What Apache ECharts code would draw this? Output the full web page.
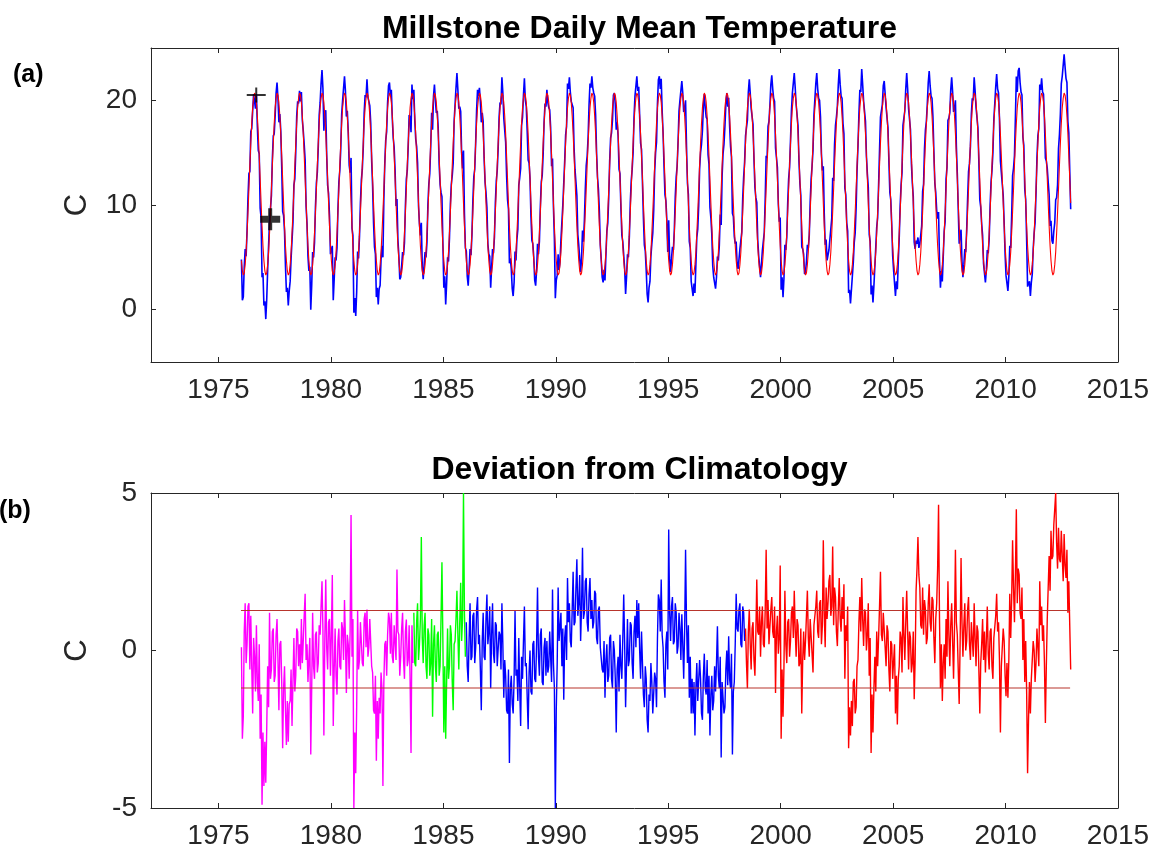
<!DOCTYPE html>
<html>
<head>
<meta charset="utf-8">
<title>Millstone Daily Mean Temperature</title>
<script src="https://cdn.jsdelivr.net/npm/echarts@6/dist/echarts.min.js"></script>
<style>
  html, body { margin: 0; padding: 0; background: #ffffff; }
  #chart { width: 1155px; height: 856px; }
</style>
</head>
<body>
<div id="chart"></div>
<script>
// Half-monthly climatology of water temperature (deg C): Jan 1-15, Jan 16-31, Feb 1-14, ... Dec 16-31
const climatology = [
  4.7, 3.7, 3.3, 3.5, 4.3, 5.5, 7.3, 9.3, 11.5, 13.8, 15.9, 17.8,
  19.3, 20.2, 20.7, 20.5, 19.8, 18.5, 16.8, 14.7, 12.5, 10.2, 8.0, 6.1
];

// Half-monthly deviation from climatology (deg C), one array per record period.
// Period 1: Jan 1976 - Aug 1983
const devStart1976 = [1976, 1];
const devPeriod1976 = [
  0.1, -2.8, -2.1, 0.6, 1.5, -0.4, 0.2, 1.4, 1.5, -0.6, 1.1, -0.5, -2.0, 0.4, -0.2, -1.3, 0.8, -1.0, -1.6, 0.2, -2.8, -1.4, -4.9, -2.6,
  -4.3, -2.9, -4.2, -2.5, -0.5, -1.8, 1.2, -0.9, -0.6, 0.6, 0.7, -1.0, -0.8, 0.5, 1.0, -0.3, -1.9, 0.2, 0.3, -1.0, -3.1, -1.2, -0.5, -1.9,
  -3.0, -1.6, -2.9, -1.7, -1.6, -0.6, -2.4, -1.0, 0.4, -1.3, -0.8, 0.7, 0.6, -0.5, 0.2, -0.6, 1.0, -0.4, 0.3, 1.1, 1.8, -0.3, 0.2, -1.0,
  -1.0, 0.4, -3.3, -1.2, 1.2, -0.5, -0.9, 0.5, 0.6, -0.7, -0.4, 0.8, 0.5, 1.4, 2.2, 0.6, -2.7, 0.3, 2.25, 0.1, -0.6, 0.9, 1.0, -0.8,
  0.5, 2.4, -2.4, -0.6, 0.7, -0.8, -1.4, 0.3, 0.7, -0.5, -0.6, 0.9, 0.7, -0.3, 1.6, 0.4, -1.35, 0.5, 0.2, -0.9, 0.6, 4.3, -0.2, 1.0,
  -5.0, -2.6, -3.9, -1.8, 1.25, -0.6, -0.3, 0.9, 0.9, -0.4, -0.5, 1.0, 1.2, 0.1, 1.3, -0.2, 0.1, 1.0, 1.0, -0.5, -0.7, -1.9, -2.0, -0.8,
  -3.5, -1.6, -2.8, -1.5, -2.0, -0.7, -1.2, -4.3, -1.0, 0.2, 0.3, -0.8, 0.5, 1.2, 1.0, -0.1, 1.2, -0.2, -0.4, 0.8, 0.8, -0.3, 2.57, 0.6,
  0.5, -0.8, -0.2, 0.7, 1.2, -0.3, -0.9, 0.6, 0.98, -0.5, -0.3, 0.8, -0.9, -3.25, 0.8, -0.4
];
// Period 2: Sep 1983 - Dec 1985
const devStart1983 = [1983, 9];
const devPeriod1983 = [
  1.2, -0.4, -0.5, 0.9, 1.5, -0.3, 0.2, 1.0,
  3.6, 0.4, -0.4, 0.8, 1.2, -0.5, -0.9, 0.7, 0.5, -0.8, -0.4, 1.0, -2.1, 0.2, 0.8, -0.5, -1.0, 0.5, 0.6, -0.8, -0.5, 1.0, 2.8, 0.3,
  -2.6, -0.5, -2.8, -1.0, 0.7, -0.9, -0.5, 0.8, 0.5, -1.0, -1.9, 0.2, 0.3, 1.0, 1.9, 0.5, -0.6, 0.9, 2.15, 0.3, 1.0, 5.0, 1.2, -0.2
];
// Period 3: Jan 1986 - May 1998
const devStart1986 = [1986, 1];
const devPeriod1986 = [
  0.9, -0.5, -1.0, 0.4, 1.5, -0.3, -0.2, 1.1, 1.2, -0.4, 0.1, 1.3, 1.7, 0.2, 0.5, -0.6, -1.9, 0.3, 1.2, -0.2, -0.3, 1.0, 1.78, 0.2,
  0.6, 1.4, -1.2, 0.5, 1.5, -0.1, -0.4, 0.9, 0.8, -0.5, -0.5, 0.6, 0.5, -0.6, 1.5, 0.2, -1.5, -0.3, -0.8, -1.9, -2.0, -0.6, -3.57, -1.2,
  -0.8, -1.7, -2.0, -0.9, 1.25, -0.8, -0.6, -1.6, 0.4, -1.2, -2.4, -0.2, -0.9, 0.3, 1.4, -0.5, -0.4, -1.5, -2.5, -0.7, 0.0, -1.3, -1.4, 0.2,
  0.3, -0.9, -1.0, 0.2, 2.0, -0.2, -0.8, 0.5, 0.7, -1.0, -1.1, 0.1, 0.4, -0.8, 0.3, -0.7, -0.5, 0.6, 0.6, -1.0, 1.94, -0.4, -1.2, -5.0,
  -1.9, -0.4, 2.0, 0.3, 0.3, 1.2, -0.5, 0.7, -1.56, 0.4, 0.8, -0.3, 2.3, 0.9, 1.5, 0.3, 0.1, 1.3, 2.5, 0.8, 0.9, 2.0, 2.9, 1.1,
  1.5, 2.4, 0.3, 1.4, 3.26, 1.0, 1.2, 2.2, 2.3, 0.9, 0.6, 1.8, 2.3, 1.0, 1.6, 0.7, 0.9, 1.9, 1.8, 0.4, 0.2, 1.3, 1.4, 0.1,
  0.1, -0.6, -0.7, 0.3, -1.5, -0.3, 0.2, -1.0, -0.8, 0.4, 0.5, -0.9, -1.2, 0.3, 0.0, -0.9, -2.6, -0.6, -0.2, -1.3, 0.5, -0.5, -0.9, 0.4,
  1.78, 0.2, -1.8, -0.4, 1.0, -0.5, -0.3, 0.9, 0.8, -0.4, -0.9, 0.6, 1.1, 0.1, 1.6, 0.4, 1.5, 0.0, -0.9, 0.6, -0.4, -1.4, -1.8, -0.5,
  -0.9, -2.2, -2.6, -1.4, -1.6, -0.4, -1.0, -2.0, -2.0, -0.7, -0.9, -1.8, 0.4, 1.78, 1.6, 0.6, 2.25, 0.5, 0.1, -1.0, -1.5, 0.2, 0.6, -0.6,
  3.84, 1.2, 0.3, 1.4, 1.7, 0.2, 0.3, 1.5, 1.2, -0.1, 0.14, 1.2, 0.7, -0.3, 1.15, 0.2, -0.9, 0.6, 3.2, 0.9, -0.4, 0.8, -1.5, -0.2,
  -2.0, -0.9, -2.0, -1.0, -2.7, -1.2, -0.4, -1.6, -1.6, -0.3, -0.9, -2.0, -2.2, -0.8, -0.1, -1.2, -1.4, -0.3, -2.0, -0.8, -2.7, -1.4, -0.8, -1.9,
  -1.6, -0.5, -1.3, -0.4, 0.77, -0.8, -1.2, -0.2, -3.4, -1.0, -1.0, -2.0, -1.8, -0.6, 0.0, -1.1, 0.45, -0.9, -1.2, -0.1, -3.3, -1.3, -1.0, 0.2,
  1.8, 0.7, 0.6, 1.3, 1.5, 0.2, 0.1, 1.4, 1.2, 0.3
];
// Period 4: Jun 1998 - Nov 2012
const devStart1998 = [1998, 6];
const devPeriod1998 = [
  0.7, -0.4, -1.2, 0.6, 1.3, 0.2, -0.6, 0.7, 0.9, -0.3, -0.8, 0.5, 2.25, 0.6,
  0.5, 1.4, -0.2, 0.9, 1.4, 0.2, 0.1, 1.3, 3.2, 0.7, 1.6, 0.2, 0.2, 1.3, 1.7, 0.6, 0.4, 1.4, -1.35, 0.6, 1.1, -0.1, 0.4, 2.7,
  -2.8, -0.6, -2.1, -0.5, 1.9, 0.2, -0.4, 0.9, 1.0, -0.2, 0.3, 1.2, 1.4, 0.4, 1.9, 0.7, -0.2, 1.0, 0.8, -0.5, -0.4, 0.7, -2.0, -0.3,
  0.6, -0.3, 0.3, 1.1, 1.9, 0.4, -0.2, 1.0, 1.0, -0.1, -0.7, 0.8, 0.8, 1.4, 1.9, 0.6, 0.4, 1.5, 1.6, 0.2, 0.8, 3.5, 1.2, 0.1,
  2.0, 1.0, 1.5, 2.2, 2.4, 1.1, 1.4, 3.3, 0.8, 2.0, 1.7, 0.6, 0.14, 1.3, 2.3, 1.0, 0.6, 1.7, 1.0, 2.1, -0.9, 0.8, 0.3, 1.4,
  -3.1, -1.8, -2.7, -1.6, -2.4, -1.0, -0.9, -2.0, -1.8, -0.5, -0.3, 0.9, 1.7, 0.6, 2.3, 1.0, 0.14, 1.3, 1.2, 0.0, 0.5, 1.5, -0.8, 0.4,
  -3.25, -1.4, -2.6, -1.2, -0.2, -1.3, 0.6, -0.5, 0.4, 1.4, 2.5, 0.5, 0.3, 1.2, 1.15, 0.1, -0.5, 0.8, 0.6, -0.6, -1.3, 0.3, 0.2, -0.9,
  -0.9, 0.2, -2.0, -0.8, -2.35, -0.9, -0.5, 0.6, 0.4, -0.7, 1.7, 0.5, -0.3, 0.9, 1.9, 0.6, -0.6, 0.6, 0.4, -0.7, -0.4, 0.6, -1.55, -0.3,
  1.9, 2.6, 3.6, 2.4, 2.0, 0.8, 0.7, 2.0, 0.5, 1.6, 1.3, 0.2, 0.4, 1.5, 2.1, 0.9, 0.6, 1.7, 1.6, 0.4, -0.4, 1.0, 1.5, 2.6,
  4.63, 1.0, -1.2, 0.2, -1.6, -0.4, 0.2, -0.9, 1.0, -0.2, 2.2, 0.5, -0.5, 0.8, 1.5, 0.3, -0.9, 0.7, 3.2, 0.9, 0.5, -0.6, -1.7, 0.2,
  2.94, 0.9, -0.2, 0.8, 1.5, 0.0, 0.3, 1.3, 1.7, 0.2, -0.3, 0.9, 0.9, -0.2, 1.5, 0.4, -0.5, 0.8, 0.6, -0.6, -2.0, -0.4, 0.2, 1.0,
  -0.3, 0.6, -0.7, 0.3, 1.4, -0.1, -0.6, 0.6, 0.7, -0.5, -0.9, 0.4, 0.4, 1.1, 1.8, 0.6, 0.9, -0.3, -2.6, -0.5, -0.5, 0.7, 0.3, -0.8,
  -1.45, -0.4, -1.5, -0.3, 1.8, 0.4, 1.6, 3.5, 2.0, 0.9, 2.4, 4.48, 1.5, 2.6, 2.4, 1.2, 1.0, 2.0, -0.3, 1.0, -1.0, 0.3, -1.3, -3.9,
  -2.2, -1.0, -2.0, -0.9, -0.9, 0.3, 0.0, -1.0, -0.4, 0.7, 0.7, -0.5, 2.2, 0.8, 1.4, 0.3, 0.8, -0.4, -2.3, -0.5, 1.0, 2.0, 3.0, 1.9,
  3.8, 2.9, 3.0, 4.0, 4.0, 5.0, 3.4, 2.6, 3.9, 2.9, 2.8, 3.8, 3.0, 2.2, 3.7, 2.7, 2.3, 3.2, 1.2, 2.2, 0.8, -0.6
];

// Deviation thresholds (deg C) and the span they cover (decimal years)
const bandLevels = [1.27, -1.19];
const bandSpan = [1976.0, 2012.87];

// Marked points on the temperature record [decimal year, deg C]
const markerPoints = [[1976.68, 20.5], [1977.30, 8.63]];

// Tick values
const yearTicks = [1975, 1980, 1985, 1990, 1995, 2000, 2005, 2010, 2015];
const tempTicks = [0, 10, 20];
const devTicks = [-5, 0, 5];

// ---- derived series ----
const periods = [
  { start: devStart1976, dev: devPeriod1976, color: '#ff00ff' },
  { start: devStart1983, dev: devPeriod1983, color: '#00ff00' },
  { start: devStart1986, dev: devPeriod1986, color: '#0000ff' },
  { start: devStart1998, dev: devPeriod1998, color: '#ff0000' }
];

// time (decimal year) and climatology slot of the i-th half-month sample of a period
function halfMonth(start, i) {
  const k = (start[1] - 1) * 2 + i;
  return { t: start[0] + (k + 0.5) / 24, slot: k % 24 };
}

const observed = [];
const climLine = [];
const devSeries = periods.map(p => p.dev.map((d, i) => {
  const hm = halfMonth(p.start, i);
  observed.push([hm.t, +(climatology[hm.slot] + d).toFixed(2)]);
  climLine.push([hm.t, climatology[hm.slot]]);
  return [hm.t, d];
}));

// ---- styling ----
const FONT = '"Liberation Sans", Arial, Helvetica, sans-serif';
const AXIS = '#262626';

function xPair(gridIndex) {
  const common = {
    type: 'value', gridIndex: gridIndex, min: 1972, max: 2015,
    axisLine: { show: true, onZero: false, lineStyle: { color: AXIS, width: 1 } },
    axisTick: { show: true, inside: true, length: 5, customValues: yearTicks, lineStyle: { color: AXIS, width: 1 } },
    splitLine: { show: false }
  };
  return [
    Object.assign({}, common, {
      position: 'bottom',
      axisLabel: { show: true, customValues: yearTicks, margin: 14, fontFamily: FONT, fontSize: 28, color: AXIS,
                   formatter: v => String(v) }
    }),
    Object.assign({}, common, { position: 'top', axisLabel: { show: false } })
  ];
}

function yPair(gridIndex, min, max, ticks) {
  const common = {
    type: 'value', gridIndex: gridIndex, min: min, max: max,
    axisLine: { show: true, onZero: false, lineStyle: { color: AXIS, width: 1 } },
    axisTick: { show: true, inside: true, length: 5, customValues: ticks, lineStyle: { color: AXIS, width: 1 } },
    splitLine: { show: false }
  };
  return [
    Object.assign({}, common, {
      position: 'left',
      name: 'C', nameLocation: 'middle', nameGap: 58, nameRotate: 90,
      nameTextStyle: { fontFamily: FONT, fontSize: 31, color: AXIS },
      axisLabel: { show: true, customValues: ticks, margin: 14, fontFamily: FONT, fontSize: 28, color: AXIS,
                   formatter: v => String(v) }
    }),
    Object.assign({}, common, { position: 'right', axisLabel: { show: false } })
  ];
}

const series = [
  { type: 'line', name: 'observed', xAxisIndex: 0, yAxisIndex: 0, data: observed,
    showSymbol: false, lineStyle: { color: '#0000ff', width: 1.6 }, z: 2 },
  { type: 'line', name: 'climatology', xAxisIndex: 0, yAxisIndex: 0, data: climLine,
    showSymbol: false, lineStyle: { color: '#ff0000', width: 1.1 }, z: 3 },
  { type: 'scatter', xAxisIndex: 0, yAxisIndex: 0, z: 4,
    data: [
      { value: markerPoints[0], symbol: 'path://M0,6.5h19v2h-19z M8.5,0h2v15h-2z', symbolSize: [19, 15] },
      { value: markerPoints[1], symbol: 'path://M0,7.5h20v7h-20z M8,0h4v22h-4z', symbolSize: [20, 22] }
    ],
    itemStyle: { color: '#000000' } }
];

periods.forEach((p, k) => {
  series.push({ type: 'line', xAxisIndex: 2, yAxisIndex: 2, data: devSeries[k],
    showSymbol: false, lineStyle: { color: p.color, width: 1.4 }, z: 2 });
});
bandLevels.forEach(level => {
  series.push({ type: 'line', xAxisIndex: 2, yAxisIndex: 2,
    data: [[bandSpan[0], level], [bandSpan[1], level]],
    showSymbol: false, lineStyle: { color: '#b8352c', width: 1.2 }, z: 3 });
});

const option = {
  animation: false,
  backgroundColor: '#ffffff',
  title: [
    { text: 'Millstone Daily Mean Temperature', left: 634.5, top: 8, textAlign: 'center',
      textStyle: { fontFamily: FONT, fontSize: 32, fontWeight: 'bold', color: '#000000' } },
    { text: 'Deviation from Climatology', left: 634.5, top: 449, textAlign: 'center',
      textStyle: { fontFamily: FONT, fontSize: 32, fontWeight: 'bold', color: '#000000' } },
    { text: '(a)', left: 8, top: 58,
      textStyle: { fontFamily: FONT, fontSize: 25, fontWeight: 'bold', color: '#000000' } },
    { text: '(b)', left: -6, top: 494,
      textStyle: { fontFamily: FONT, fontSize: 25, fontWeight: 'bold', color: '#000000' } }
  ],
  grid: [
    { left: 151, top: 48, width: 967, height: 314 },
    { left: 151, top: 493, width: 967, height: 315 }
  ],
  xAxis: xPair(0).concat(xPair(1)),
  yAxis: yPair(0, -5, 25, tempTicks).concat(yPair(1, -5, 5, devTicks)),
  series: series
};

const chart = echarts.init(document.getElementById('chart'), null, { renderer: 'canvas' });
chart.setOption(option);
</script>
</body>
</html>
